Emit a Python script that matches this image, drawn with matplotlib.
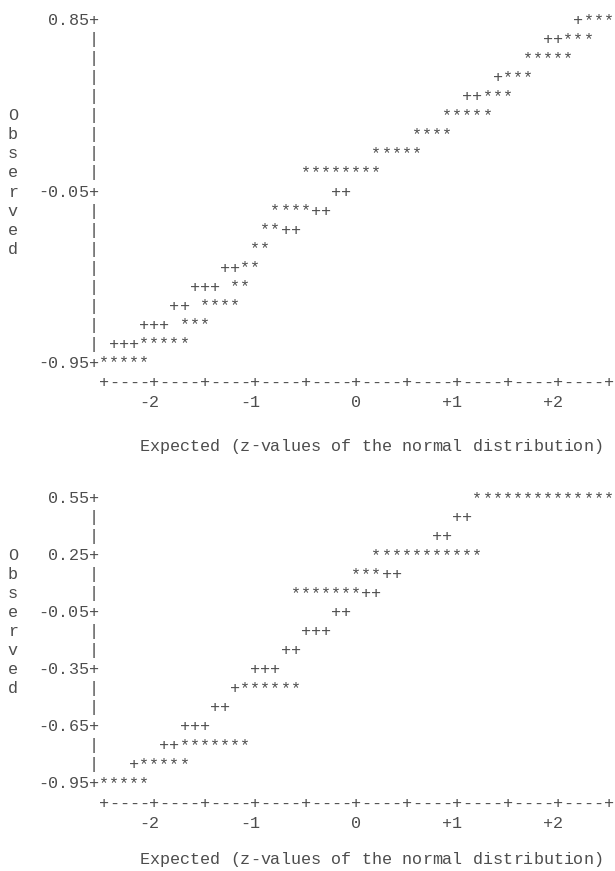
import numpy as np
import matplotlib
matplotlib.use('Agg')
from matplotlib import pyplot as plt

# normal probability plots, line printer style (* = data, + = normal reference line)

# top plot
top_star_z = [2.3, 2.4, 2.5,
              2.1, 2.2, 2.3,
              1.7, 1.8, 1.9, 2.0, 2.1,
              1.5, 1.6, 1.7,
              1.3, 1.4, 1.5,
              0.9, 1.0, 1.1, 1.2, 1.3,
              0.6, 0.7, 0.8, 0.9,
              0.2, 0.3, 0.4, 0.5, 0.6,
              -0.5, -0.4, -0.3, -0.2, -0.1, 0.0, 0.1, 0.2,
              -0.8, -0.7, -0.6, -0.5,
              -0.9, -0.8,
              -1.0, -0.9,
              -1.1, -1.0,
              -1.2, -1.1,
              -1.5, -1.4, -1.3, -1.2,
              -1.7, -1.6, -1.5,
              -2.1, -2.0, -1.9, -1.8, -1.7,
              -2.5, -2.4, -2.3, -2.2, -2.1]
top_star_y = [0.85] * 3 + [0.75] * 3 + [0.65] * 5 + [0.55] * 3 + [0.45] * 3 + \
             [0.35] * 5 + [0.25] * 4 + [0.15] * 5 + [0.05] * 8 + [-0.15] * 4 + \
             [-0.25] * 2 + [-0.35] * 2 + [-0.45] * 2 + [-0.55] * 2 + [-0.65] * 4 + \
             [-0.75] * 3 + [-0.85] * 5 + [-0.95] * 5
top_plus_z = [2.2, 1.9, 2.0, 1.4, 1.1, 1.2, -0.2, -0.1, -0.4, -0.3, -0.7, -0.6,
              -1.3, -1.2, -1.6, -1.5, -1.4, -1.8, -1.7, -2.1, -2.0, -1.9,
              -2.4, -2.3, -2.2]
top_plus_y = [0.85, 0.75, 0.75, 0.55, 0.45, 0.45, -0.05, -0.05, -0.15, -0.15,
              -0.25, -0.25, -0.45, -0.45, -0.55, -0.55, -0.55, -0.65, -0.65,
              -0.75, -0.75, -0.75, -0.85, -0.85, -0.85]
top_yticks = [0.85, -0.05, -0.95]
top_ylabels = ['0.85', '-0.05', '-0.95']

# bottom plot
bot_star_z = [1.2, 1.3, 1.4, 1.5, 1.6, 1.7, 1.8, 1.9, 2.0, 2.1, 2.2, 2.3, 2.4, 2.5,
              0.2, 0.3, 0.4, 0.5, 0.6, 0.7, 0.8, 0.9, 1.0, 1.1, 1.2,
              0.0, 0.1, 0.2,
              -0.6, -0.5, -0.4, -0.3, -0.2, -0.1, 0.0,
              -1.1, -1.0, -0.9, -0.8, -0.7, -0.6,
              -1.7, -1.6, -1.5, -1.4, -1.3, -1.2, -1.1,
              -2.1, -2.0, -1.9, -1.8, -1.7,
              -2.5, -2.4, -2.3, -2.2, -2.1]
bot_star_y = [0.55] * 14 + [0.25] * 11 + [0.15] * 3 + [0.05] * 7 + [-0.45] * 6 + \
             [-0.75] * 7 + [-0.85] * 5 + [-0.95] * 5
bot_plus_z = [1.0, 1.1, 0.8, 0.9, 0.3, 0.4, 0.1, 0.2, -0.2, -0.1, -0.5, -0.4, -0.3,
              -0.7, -0.6, -1.0, -0.9, -0.8, -1.2, -1.4, -1.3, -1.7, -1.6, -1.5,
              -1.9, -1.8, -2.2]
bot_plus_y = [0.45, 0.45, 0.35, 0.35, 0.15, 0.15, 0.05, 0.05, -0.05, -0.05,
              -0.15, -0.15, -0.15, -0.25, -0.25, -0.35, -0.35, -0.35, -0.45,
              -0.55, -0.55, -0.65, -0.65, -0.65, -0.75, -0.75, -0.85]
bot_yticks = [0.55, 0.25, -0.05, -0.35, -0.65, -0.95]
bot_ylabels = ['0.55', '0.25', '-0.05', '-0.35', '-0.65', '-0.95']

xticks = [-2, -1, 0, 1, 2]
xlabels = ['-2', '-1', '0', '+1', '+2']
xtitle = 'Expected (z-values of the normal distribution)'
ytitle = 'Observed'

kw = dict(family=['Liberation Mono', 'DejaVu Sans Mono'], fontsize=12.1,
          color='#4d4d4d', ha='center', va='center')
step = 0.1  # one character cell


def put(ax, x, y, s):
    for i, ch in enumerate(s):
        if ch != ' ':
            ax.text(x + i * step, y, ch, **kw)


def panel(ax, sz, sy, pz, py, yticks, ylabels, ytitle_top, title_gap):
    ax.axis('off')
    for z, v in zip(pz, py):
        ax.text(z, v, '+', **kw)
    for z, v in zip(sz, sy):
        ax.text(z, v, '*', **kw)
    # vertical axis
    axis_z = -2.5 - step
    rows = np.round(np.arange(yticks[0], yticks[-1] - 0.01, -step), 2)
    for v in rows:
        if np.any(np.isclose(v, yticks)):
            lab = ylabels[int(np.argmin(np.abs(np.array(yticks) - v)))]
            put(ax, axis_z - len(lab) * step, v, lab + '+')
        else:
            put(ax, axis_z, v, '|')
    for i, ch in enumerate(ytitle):
        put(ax, -3.4, round(ytitle_top - i * step, 2), ch)
    # horizontal axis
    bottom = yticks[-1]
    put(ax, -2.5, bottom - 0.105, '+----' * 10 + '+')
    for t, lab in zip(xticks, xlabels):
        put(ax, t - (len(lab) - 1) * step, bottom - 0.21, lab)
    put(ax, -2.1, bottom - title_gap, xtitle)


fig = plt.figure(figsize=(6.15, 8.71), dpi=100)

ax1 = fig.add_axes([0, 1 - 465 / 871, 1, 465 / 871])
panel(ax1, top_star_z, top_star_y, top_plus_z, top_plus_y, top_yticks, top_ylabels, 0.35, 0.44)
ax1.set_xlim(-3.5277, 2.5614)
ax1.set_ylim(-1.4868, 0.9605)

ax2 = fig.add_axes([0, 0, 1, 406 / 871])
panel(ax2, bot_star_z, bot_star_y, bot_plus_z, bot_plus_y, bot_yticks, bot_ylabels, 0.25, 0.40)
ax2.set_xlim(-3.5277, 2.5614)
ax2.set_ylim(-1.4079, 0.7289)

fig.savefig('out.png', dpi=100)
